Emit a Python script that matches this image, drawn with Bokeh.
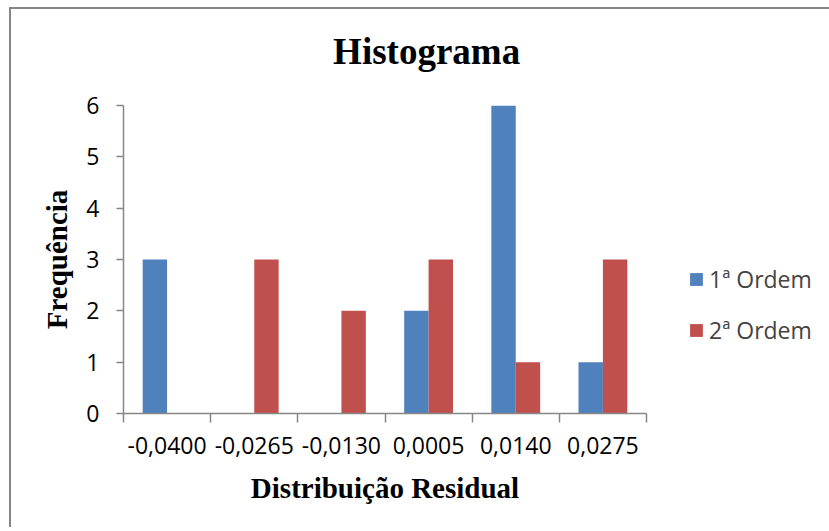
from bokeh.plotting import figure
from bokeh.models import FixedTicker, ColumnDataSource, Legend, LegendItem, LinearAxis
from bokeh.transform import dodge
from bokeh.embed import file_html
from bokeh.resources import INLINE

# ---- data ----
categories = ["-0,0400", "-0,0265", "-0,0130", "0,0005", "0,0140", "0,0275"]
ordem1 = [3, 0, 0, 2, 6, 1]
ordem2 = [0, 3, 2, 3, 1, 3]
series_names = ["1ª Ordem", "2ª Ordem"]
y_ticks = [0, 1, 2, 3, 4, 5, 6]
title_text = "Histograma"

BLUE = "#4F81BD"
RED = "#C0504D"
GRAY = "#868686"

n = len(categories)
centers = [i + 0.5 for i in range(n)]
bounds = list(range(n + 1))
src = ColumnDataSource(dict(x=centers, o1=ordem1, o2=ordem2))

p = figure(frame_width=523, frame_height=308, x_range=(0, n), y_range=(0, max(y_ticks)),
           output_backend="svg", toolbar_location=None,
           min_border_left=112, min_border_right=164,
           min_border_top=96, min_border_bottom=116,
           styles={"box-shadow": "-2px -2px 0 0 #868686",
                   "margin-left": "11px", "margin-top": "9px"})
p.outline_line_color = None
p.xgrid.visible = False
p.ygrid.visible = False
p.background_fill_color = "white"
p.border_fill_color = "white"

xa = p.below[0]
ya = p.left[0]

bw = 0.28
r1 = p.vbar(x=dodge("x", -bw / 2), top="o1", width=bw, source=src, fill_color=BLUE,
            line_color=None)
r2 = p.vbar(x=dodge("x", bw / 2), top="o2", width=bw, source=src, fill_color=RED,
            line_color=None)

# chart title, drawn as the label of a bare axis above the plot
# (leading no-break spaces shift it right to sit over the whole chart's centre)
ta = LinearAxis(ticker=FixedTicker(ticks=[]),
                axis_line_color=None, major_tick_line_color=None,
                minor_tick_line_color=None, major_tick_out=0, minor_tick_out=0,
                major_tick_in=0, minor_tick_in=0, major_label_standoff=0,
                major_label_text_font_size="0px",
                axis_label="\u00a0" * 9 + title_text, axis_label_text_font="Liberation Serif",
                axis_label_text_font_style="bold", axis_label_text_font_size="37px",
                axis_label_text_color="black", axis_label_standoff=34)
p.add_layout(ta, "above")

# x axis
xa.ticker = FixedTicker(ticks=centers, minor_ticks=bounds)
xa.major_label_overrides = {c: lab for c, lab in zip(centers, categories)}
xa.major_tick_line_color = None
xa.minor_tick_line_color = GRAY
xa.minor_tick_in = 0
xa.minor_tick_out = 9
xa.axis_line_color = GRAY
xa.axis_line_width = 1.5
xa.minor_tick_line_width = 1.5
xa.major_label_text_font = "Open Sans"
xa.major_label_text_font_size = "23px"
xa.major_label_text_color = "black"
xa.major_label_standoff = 14
xa.axis_label = "Distribuição Residual"
xa.axis_label_text_font = "Liberation Serif"
xa.axis_label_text_font_style = "bold"
xa.axis_label_text_font_size = "29px"
xa.axis_label_text_color = "black"
xa.axis_label_standoff = 15

# y axis
ya.ticker = FixedTicker(ticks=y_ticks)
ya.major_tick_in = 0
ya.major_tick_out = 7
ya.minor_tick_line_color = None
ya.major_tick_line_color = GRAY
ya.major_tick_line_width = 1.5
ya.axis_line_color = GRAY
ya.axis_line_width = 1.5
ya.major_label_text_font = "Open Sans"
ya.major_label_text_font_size = "23px"
ya.major_label_text_color = "black"
ya.major_label_standoff = 17
ya.axis_label = "Frequência"
ya.axis_label_text_font = "Liberation Serif"
ya.axis_label_text_font_style = "bold"
ya.axis_label_text_font_size = "29px"
ya.axis_label_text_color = "black"
ya.axis_label_standoff = 10

# legend
lg = Legend(items=[LegendItem(label=series_names[0], renderers=[r1]),
                   LegendItem(label=series_names[1], renderers=[r2])])
lg.location = (42, 67)
lg.padding = 0
lg.margin = 0
lg.spacing = 19
lg.glyph_width = 16
lg.glyph_height = 16
lg.label_height = 30
lg.label_standoff = 5
lg.label_text_font = "Open Sans"
lg.label_text_font_size = "23px"
lg.border_line_color = None
lg.background_fill_alpha = 0
p.add_layout(lg, "right")

open("out.html", "w").write(file_html(p, INLINE))
